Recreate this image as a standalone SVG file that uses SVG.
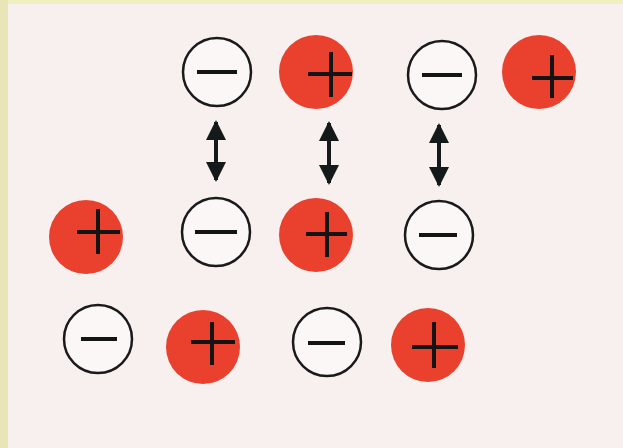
<svg xmlns="http://www.w3.org/2000/svg" width="623" height="448" viewBox="0 0 623 448">
<defs>
<style>
.neg{fill:#fbf7f6;stroke:#1a1a1a;stroke-width:2.5}
.pos{fill:#e9412e}
.sign{stroke:#141414;stroke-width:4;stroke-linecap:butt;fill:none}
.shaft{stroke:#141a1a;stroke-width:4}
</style>
<marker id="ah" viewBox="0 0 10 10" refX="9" refY="5" markerWidth="5" markerHeight="5" orient="auto-start-reverse" markerUnits="strokeWidth">
<path d="M0,0 L10,5 L0,10 Z" fill="#141a1a"/>
</marker>
</defs>
<rect x="0" y="0" width="623" height="448" fill="#f7f0ee"/>
<rect x="0" y="0" width="623" height="4" fill="#eff0bf"/>
<rect x="0" y="0" width="8" height="448" fill="#e8e6b6"/>

<g id="n1"><circle class="neg" cx="217" cy="72" r="34"/><line class="sign" x1="197" y1="72" x2="237" y2="72"/></g>
<g id="n2"><circle class="pos" cx="316" cy="72" r="37"/><line class="sign" x1="308" y1="74" x2="352" y2="74"/><line class="sign" x1="331" y1="52" x2="331" y2="97"/></g>
<g id="n3"><circle class="neg" cx="442" cy="75" r="34"/><line class="sign" x1="422" y1="75" x2="462" y2="75"/></g>
<g id="n4"><circle class="pos" cx="539" cy="72" r="37"/><line class="sign" x1="532" y1="78" x2="573" y2="78"/><line class="sign" x1="552" y1="55" x2="552" y2="98"/></g>

<g id="n5"><circle class="pos" cx="86" cy="237" r="37"/><line class="sign" x1="77" y1="232" x2="120" y2="232"/><line class="sign" x1="98" y1="209" x2="98" y2="254"/></g>
<g id="n6"><circle class="neg" cx="216" cy="232" r="34"/><line class="sign" x1="195" y1="232" x2="237" y2="232"/></g>
<g id="n7"><circle class="pos" cx="316" cy="235" r="37"/><line class="sign" x1="306" y1="234" x2="347" y2="234"/><line class="sign" x1="327" y1="212" x2="327" y2="257"/></g>
<g id="n8"><circle class="neg" cx="439" cy="235" r="34"/><line class="sign" x1="419" y1="235" x2="457" y2="235"/></g>

<g id="n9"><circle class="neg" cx="98" cy="339" r="34"/><line class="sign" x1="81" y1="339" x2="117" y2="339"/></g>
<g id="n10"><circle class="pos" cx="203" cy="347" r="37"/><line class="sign" x1="191" y1="342" x2="235" y2="342"/><line class="sign" x1="212" y1="322" x2="212" y2="365"/></g>
<g id="n11"><circle class="neg" cx="327" cy="342" r="34"/><line class="sign" x1="308" y1="343" x2="345" y2="343"/></g>
<g id="n12"><circle class="pos" cx="428" cy="345" r="37"/><line class="sign" x1="412" y1="347" x2="458" y2="347"/><line class="sign" x1="434" y1="322" x2="434" y2="368"/></g>

<g id="connectors">
<line class="shaft" x1="216" y1="122" x2="216" y2="180" marker-start="url(#ah)" marker-end="url(#ah)"/>
<line class="shaft" x1="329" y1="123" x2="329" y2="183" marker-start="url(#ah)" marker-end="url(#ah)"/>
<line class="shaft" x1="439" y1="125" x2="439" y2="185" marker-start="url(#ah)" marker-end="url(#ah)"/>
</g>
</svg>
